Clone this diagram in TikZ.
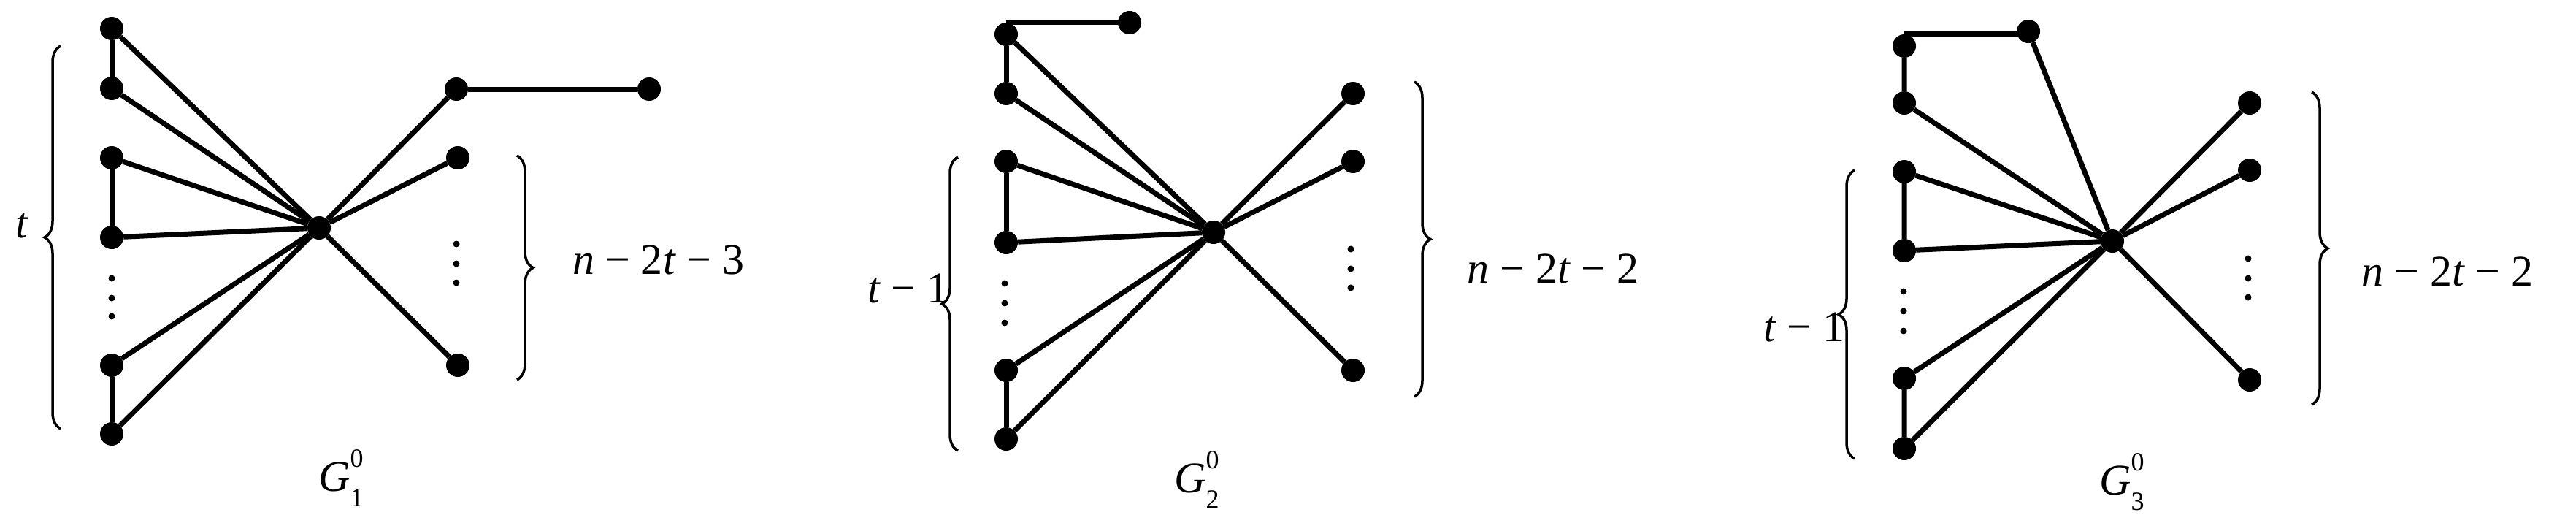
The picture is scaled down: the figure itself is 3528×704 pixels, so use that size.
\documentclass[tikz,border=0pt]{standalone}
\usepackage{fontspec}
\setmainfont{Liberation Serif}
\usetikzlibrary{decorations.pathreplacing}
\tikzset{v/.style={circle,fill=black,inner sep=0pt,minimum width=32pt,yscale=1.0},
e/.style={line width=7pt},
dotv/.style={circle,fill=black,inner sep=0pt,minimum size=9pt},
br/.style={decorate,decoration={brace,amplitude=22pt},line width=3.5pt},
lab/.style={font=\fontsize{60}{64}\selectfont,inner sep=0pt}}
\newcommand{\Gl}[1]{\textit{G}\rlap{\raisebox{0.55em}{\fontsize{36}{40}\selectfont 0}}\raisebox{-0.35em}{\fontsize{36}{40}\selectfont #1}}
\begin{document}
\begin{tikzpicture}[x=1pt,y=-1pt]
\useasboundingbox (0,0) rectangle (3528,704);
% Graph 1
\foreach \n/\y in {1/39,2/121,3/216,4/325,5/500,6/594} \node[v] (a\n) at (153,\y) {};
\node[v] (c) at (437,312) {};
\node[v] (r1) at (625,122) {};
\node[v] (x1) at (889,122) {};
\node[v] (r2) at (627,216) {};
\node[v] (r3) at (627,500) {};
\foreach \y [count=\i] in {381,408,433} \node[dotv] (ld\i) at (153,\y) {};
\foreach \y [count=\i] in {334,361,387} \node[dotv] (rd\i) at (625,\y) {};
\draw[e] (a1)--(a2) (a3)--(a4) (a5)--(a6) (r1)--(x1);
\foreach \n in {1,...,6} \draw[e] (a\n)--(c);
\foreach \n in {1,2,3} \draw[e] (c)--(r\n);
\coordinate (b1s) at (83,587); \coordinate (b1e) at (83,63);
\draw[br] (b1s)--(b1e);
\node[lab] (t1) at (30,309) {\textit{t}};
\coordinate (b2s) at (708,213); \coordinate (b2e) at (708,520);
\draw[br] (b2s)--(b2e);
\node[lab,anchor=west] (n1) at (784,356) {\textit{n} − 2\textit{t} − 3};
\node[lab] (g1) at (467,655) {\Gl{1}};
% Graph 2
\foreach \n/\y in {1/47,2/128,3/221,4/332,5/507,6/601} \node[v] (p\n) at (1378,\y) {};
\node[v] (cc) at (1662,318) {};
\node[v] (xx) at (1547,31) {};
\node[v] (q1) at (1853,128) {};
\node[v] (q2) at (1853,221) {};
\node[v] (q3) at (1853,507) {};
\foreach \y [count=\i] in {388,415,442} \node[dotv] (pd\i) at (1376,\y) {};
\foreach \y [count=\i] in {341,368,394} \node[dotv] (qd\i) at (1850,\y) {};
\draw[e] (p1)--(p2) (p3)--(p4) (p5)--(p6);
\draw[e] (p1.north) -- (p1.north -| xx) -- (xx);
\foreach \n in {1,...,6} \draw[e] (p\n)--(cc);
\foreach \n in {1,2,3} \draw[e] (cc)--(q\n);
\coordinate (b3s) at (1312,617); \coordinate (b3e) at (1312,215);
\draw[br] (b3s)--(b3e);
\node[lab,anchor=east] (t2) at (1300,395) {\textit{t} − 1};
\coordinate (b4s) at (1937,112); \coordinate (b4e) at (1937,543);
\draw[br] (b4s)--(b4e);
\node[lab,anchor=west] (n2) at (2009,368) {\textit{n} − 2\textit{t} − 2};
\node[lab] (g2) at (1639,657) {\Gl{2}};
% Graph 3
\foreach \n/\y in {1/63,2/141,3/235,4/343,5/518,6/614} \node[v] (s\n) at (2608,\y) {};
\node[v] (ccc) at (2893,330) {};
\node[v] (xxx) at (2778,43) {};
\node[v] (u1) at (3081,141) {};
\node[v] (u2) at (3081,233) {};
\node[v] (u3) at (3081,520) {};
\foreach \y [count=\i] in {399,426,453} \node[dotv] (sd\i) at (2607,\y) {};
\foreach \y [count=\i] in {354,381,407} \node[dotv] (ud\i) at (3079,\y) {};
\draw[e] (s1)--(s2) (s3)--(s4) (s5)--(s6) (xxx)--(ccc);
\draw[e] (s1.north) -- (s1.north -| xxx) -- (xxx);
\foreach \n in {2,...,6} \draw[e] (s\n)--(ccc);
\foreach \n in {1,2,3} \draw[e] (ccc)--(u\n);
\coordinate (b5s) at (2540,628); \coordinate (b5e) at (2540,233);
\draw[br] (b5s)--(b5e);
\node[lab,anchor=east] (t3) at (2527,448) {\textit{t} − 1};
\coordinate (b6s) at (3166,126); \coordinate (b6e) at (3166,554);
\draw[br] (b6s)--(b6e);
\node[lab,anchor=west] (n3) at (3234,372) {\textit{n} − 2\textit{t} − 2};
\node[lab] (g3) at (2906,660) {\Gl{3}};
\end{tikzpicture}
\end{document}
